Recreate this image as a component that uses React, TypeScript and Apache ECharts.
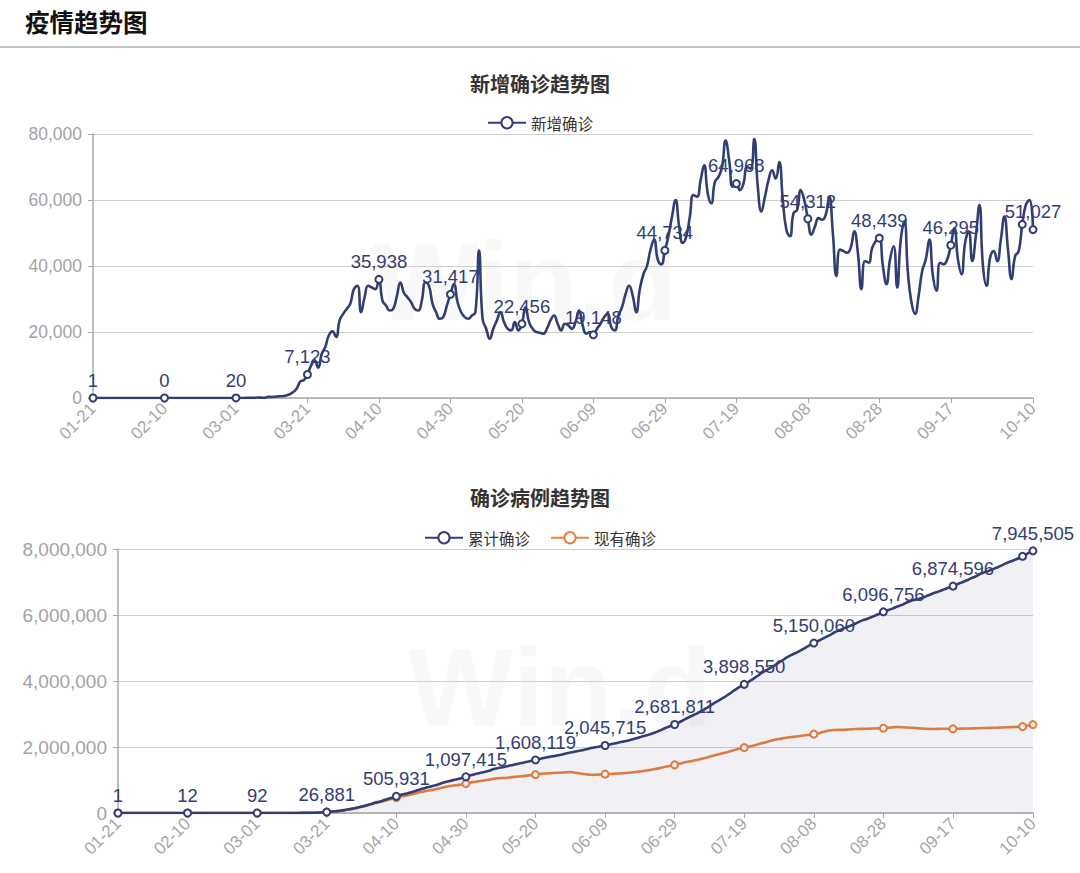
import React, { useEffect, useRef } from "react";
import * as echarts from "echarts";

// ---------- data ----------
const START_DATE = Date.UTC(2020, 0, 21);

// daily new confirmed cases (新增确诊), 01-21 .. 10-10
const dailyNew: number[] = [
  1, 0, 1, 0, 2, 0, 0, 0, 1, 1, 0, 2, 1, 0, 1, 0, 0, 1, 0, 1, 0,
  0, 0, 1, 0, 0, 2, 0, 1, 0, 3, 1, 2, 4, 6, 8, 5, 9, 8, 10, 20,
  23, 20, 31, 68, 45, 140, 116, 65, 376, 322, 382, 516, 548, 772, 1133, 1789, 2900, 5000, 5420, 7123,
  9800, 11400, 9200, 13400, 15500, 19000, 20200, 18500, 23500, 25500, 27000, 28600, 33000, 34000, 26000, 30600, 34000, 33500, 33000, 35938,
  29500, 28000, 26500, 27000, 30800, 35000, 31800, 30500, 29000, 27000, 26500, 29500, 35000, 34000, 28500, 26000, 24000, 24500, 28000, 31417,
  34500, 29000, 26000, 24500, 24000, 25000, 26000, 44700, 24000, 21000, 18000, 21000, 23500, 26000, 23000, 21000, 20500, 23000, 20500, 22456,
  27500, 23000, 21000, 20000, 19800, 19500, 21000, 23500, 25000, 22500, 20500, 22500, 22000, 21000, 23000, 26500, 22000, 19500, 20000, 19148,
  21000, 22500, 24500, 25500, 21500, 20500, 25000, 27500, 31500, 34000, 31000, 26000, 33000, 37500, 40000, 45000, 48000, 42000, 40500, 44734,
  49000, 55000, 60000, 52000, 47000, 49000, 55000, 61500, 61000, 66000, 70500, 62000, 59000, 65500, 67000, 70000, 78000, 72000, 64000, 64968,
  63000, 65000, 70000, 69500, 78500, 64000, 56500, 61000, 66000, 69000, 66500, 71500, 60000, 51000, 49000, 56000, 57000, 63000, 60000, 54312,
  49500, 52000, 54500, 54000, 55500, 61000, 50000, 37000, 45000, 44500, 44000, 45500, 50500, 44000, 33000, 41500, 41000, 45500, 47500, 48439,
  40000, 34500, 42000, 46000, 33500, 48000, 53500, 38000, 29000, 25500, 31000, 38500, 42000, 48000, 37000, 32500, 41000, 40500, 42000, 46295,
  51500, 42000, 37500, 47000, 50500, 41500, 49000, 58500, 40000, 34000, 42500, 44500, 41500, 48000, 55000, 45000, 36000, 43000, 44500, 52600, 58500, 60000, 51027,
];

// cumulative confirmed (累计确诊)
const cumulative: number[] = [
  1, 1, 2, 2, 4, 4, 4, 4, 5, 6, 6, 8, 9, 9, 10, 10, 10, 11, 11, 12, 12,
  12, 12, 13, 13, 13, 15, 15, 16, 16, 19, 20, 22, 26, 32, 40, 45, 54, 62, 72, 92,
  115, 135, 166, 234, 279, 419, 535, 600, 976, 1298, 1680, 2196, 2744, 3516, 4649, 6438, 9338, 14338, 19758, 26881,
  36681, 48081, 57281, 70681, 86181, 105181, 125381, 143881, 167381, 192881, 219881, 248481, 281481, 315481, 341481, 372081, 406081, 439581, 470000, 505931,
  536000, 565000, 592000, 620000, 651000, 687000, 719000, 750000, 780000, 807000, 834000, 864000, 899000, 934000, 963000, 989000, 1014000, 1039000, 1067000, 1097415,
  1132000, 1161000, 1188000, 1213000, 1237000, 1263000, 1289000, 1334000, 1358000, 1380000, 1398000, 1420000, 1444000, 1471000, 1494000, 1516000, 1537000, 1561000, 1585000, 1608119,
  1636000, 1659000, 1680000, 1700000, 1720000, 1739000, 1760000, 1784000, 1809000, 1831000, 1852000, 1874000, 1896000, 1917000, 1940000, 1967000, 1989000, 2008000, 2028000, 2045715,
  2067000, 2089000, 2114000, 2139000, 2161000, 2181000, 2206000, 2234000, 2265000, 2299000, 2330000, 2356000, 2389000, 2427000, 2467000, 2512000, 2560000, 2602000, 2642000, 2681811,
  2731000, 2786000, 2846000, 2898000, 2945000, 2994000, 3049000, 3110000, 3171000, 3237000, 3307000, 3369000, 3428000, 3493000, 3560000, 3630000, 3707000, 3778000, 3840000, 3898550,
  3962000, 4027000, 4097000, 4166000, 4245000, 4309000, 4365000, 4426000, 4492000, 4561000, 4628000, 4699000, 4759000, 4810000, 4859000, 4915000, 4972000, 5035000, 5095000, 5150060,
  5200000, 5252000, 5306000, 5360000, 5416000, 5477000, 5527000, 5564000, 5609000, 5653000, 5697000, 5743000, 5793000, 5837000, 5870000, 5912000, 5953000, 5999000, 6046000, 6096756,
  6137000, 6171000, 6213000, 6259000, 6293000, 6341000, 6394000, 6432000, 6461000, 6487000, 6518000, 6556000, 6598000, 6646000, 6683000, 6716000, 6757000, 6797000, 6839000, 6874596,
  6926000, 6968000, 7006000, 7053000, 7103000, 7145000, 7194000, 7252000, 7292000, 7326000, 7369000, 7413000, 7455000, 7503000, 7558000, 7603000, 7639000, 7682000, 7726000, 7779000, 7837000, 7895000, 7945505,
];

// current active confirmed (现有确诊)
const active: number[] = [
  1, 1, 2, 2, 4, 4, 4, 4, 5, 6, 6, 8, 9, 9, 10, 10, 10, 10, 10, 10, 9,
  9, 9, 10, 10, 10, 12, 12, 13, 13, 16, 17, 19, 23, 29, 37, 42, 51, 59, 69, 86,
  107, 126, 155, 220, 262, 398, 510, 570, 940, 1255, 1630, 2140, 2680, 3440, 4560, 6330, 9200, 14150, 19540, 26610,
  36200, 47400, 56400, 69500, 84600, 102900, 122300, 140000, 162400, 186600, 212000, 238800, 269600, 301000, 324000, 351000, 380000, 409000, 437000, 466000,
  490000, 512000, 533000, 553000, 580000, 610000, 634000, 655000, 676000, 694000, 712000, 735000, 762000, 789000, 808000, 826000, 840000, 852000, 870000, 890000,
  914000, 935000, 952000, 968000, 985000, 1000000, 1015000, 1040000, 1050000, 1058000, 1062000, 1070000, 1082000, 1095000, 1106000, 1115000, 1125000, 1140000, 1152000, 1165000,
  1180000, 1190000, 1198000, 1205000, 1212000, 1218000, 1222000, 1228000, 1235000, 1238000, 1225000, 1210000, 1195000, 1180000, 1168000, 1158000, 1156000, 1162000, 1170000, 1178000,
  1182000, 1186000, 1192000, 1198000, 1205000, 1212000, 1222000, 1233000, 1246000, 1260000, 1275000, 1290000, 1306000, 1325000, 1345000, 1368000, 1392000, 1413000, 1433000, 1458000,
  1482000, 1508000, 1535000, 1558000, 1578000, 1600000, 1624000, 1650000, 1676000, 1704000, 1735000, 1762000, 1788000, 1815000, 1842000, 1870000, 1902000, 1932000, 1955000, 1980000,
  2000000, 2025000, 2050000, 2080000, 2110000, 2140000, 2170000, 2200000, 2225000, 2245000, 2262000, 2280000, 2295000, 2305000, 2320000, 2335000, 2350000, 2362000, 2375000, 2390000,
  2410000, 2435000, 2465000, 2495000, 2510000, 2515000, 2520000, 2518000, 2522000, 2530000, 2538000, 2545000, 2550000, 2548000, 2552000, 2556000, 2560000, 2563000, 2566000, 2570000,
  2580000, 2590000, 2600000, 2605000, 2600000, 2595000, 2590000, 2583000, 2575000, 2568000, 2560000, 2553000, 2548000, 2545000, 2547000, 2550000, 2552000, 2551000, 2549000, 2550000,
  2553000, 2556000, 2558000, 2560000, 2562000, 2565000, 2568000, 2572000, 2575000, 2577000, 2580000, 2583000, 2586000, 2590000, 2595000, 2600000, 2603000, 2607000, 2612000, 2618000, 2640000, 2660000, 2680000,
];

// indices where a marker is drawn, where an x tick label is drawn, and markers whose value label is hidden
const markerIndices: number[] = [0, 20, 40, 60, 80, 100, 120, 140, 160, 180, 200, 220, 240, 260, 263];
const tickIndices: number[] = [0, 20, 40, 60, 80, 100, 120, 140, 160, 180, 200, 220, 240, 263];
const hiddenLabelIndices: number[] = [260];

const topYTicks = { min: 0, max: 80000, interval: 20000 };
const bottomYTicks = { min: 0, max: 8000000, interval: 2000000 };

// ---------- helpers ----------
const dates: string[] = dailyNew.map((_, i) => {
  const d = new Date(START_DATE + i * 86400000);
  const mm = String(d.getUTCMonth() + 1).padStart(2, "0");
  const dd = String(d.getUTCDate()).padStart(2, "0");
  return `${mm}-${dd}`;
});

const NAVY = "#323e73";
const ORANGE = "#e8833f";
const FONT = "'Helvetica Neue', Arial, 'Liberation Sans', 'Noto Sans CJK SC', sans-serif";
const CJK = "'Noto Sans CJK SC', 'Helvetica Neue', Arial, sans-serif";

// faint background logo (an image in the reference, so drawn as an image here)
const WATERMARK =
  "data:image/svg+xml;charset=utf-8," +
  encodeURIComponent(
    "<svg xmlns='http://www.w3.org/2000/svg' width='320' height='120'>" +
      "<text x='160' y='98' text-anchor='middle' font-family='Liberation Sans, Arial, sans-serif' " +
      "font-weight='bold' font-size='112' fill='rgba(0,0,0,0.028)'>Win.d</text></svg>"
  );

const fmt = (v: number) => Number(v).toLocaleString("en-US");

const toItems = (vals: number[]) =>
  vals.map((v, i) => (markerIndices.includes(i) ? { value: v } : { value: v, symbol: "none" }));

const tickFilter = (idx: number) => tickIndices.includes(idx);

const labelFormatter = (p: any) =>
  markerIndices.includes(p.dataIndex) && !hiddenLabelIndices.includes(p.dataIndex) ? fmt(p.value) : "";

function xAxis(gridIndex: number) {
  return {
    type: "category",
    gridIndex,
    data: dates,
    boundaryGap: false,
    axisLine: { lineStyle: { color: "#a8a8a8", width: 1.5 } },
    axisTick: { show: true, interval: tickFilter, length: 5, lineStyle: { color: "#a8a8a8" } },
    axisLabel: {
      interval: tickFilter,
      rotate: 45,
      color: "#a6a6a6",
      fontSize: 17,
      fontFamily: FONT,
      margin: 8,
    },
    splitLine: { show: false },
  };
}

function yAxis(gridIndex: number, ticks: { min: number; max: number; interval: number }, fontSize: number) {
  return {
    type: "value",
    gridIndex,
    min: ticks.min,
    max: ticks.max,
    interval: ticks.interval,
    axisLine: { show: true, lineStyle: { color: "#a8a8a8", width: 1.5 } },
    axisTick: { show: true, length: 5, lineStyle: { color: "#a8a8a8" } },
    axisLabel: {
      color: "#a3a3a3",
      fontSize,
      fontFamily: FONT,
      margin: 11,
      formatter: (v: number) => fmt(v),
    },
    splitLine: { show: true, lineStyle: { color: "#cfcfcf", width: 1 } },
  };
}

export default function App() {
  const ref = useRef<HTMLDivElement>(null);

  useEffect(() => {
    if (!ref.current) return;
    const chart = echarts.init(ref.current, undefined, { renderer: "svg" });
    const dataLabel = {
      show: true,
      position: "top",
      distance: 4,
      color: NAVY,
      fontSize: 18.5,
      fontFamily: FONT,
      formatter: labelFormatter,
    };
    const option: any = {
      animation: false,
      backgroundColor: "#ffffff",
      textStyle: { fontFamily: FONT },
      title: [
        {
          text: "新增确诊趋势图",
          left: "center",
          top: 68,
          textStyle: { fontSize: 20, fontWeight: "bold", color: "#333", fontFamily: CJK },
        },
        {
          text: "确诊病例趋势图",
          left: "center",
          top: 482,
          textStyle: { fontSize: 20, fontWeight: "bold", color: "#333", fontFamily: CJK },
        },
      ],
      legend: [
        {
          data: ["新增确诊"],
          top: 110,
          left: "center",
          itemWidth: 38,
          itemHeight: 14,
          itemGap: 20,
          textStyle: { fontSize: 15.5, color: "#333", fontFamily: CJK },
        },
        {
          data: ["累计确诊", "现有确诊"],
          top: 525,
          left: "center",
          itemWidth: 38,
          itemHeight: 14,
          itemGap: 20,
          textStyle: { fontSize: 15.5, color: "#333", fontFamily: CJK },
        },
      ],
      grid: [
        { left: 93, top: 134, width: 940, height: 264, containLabel: false },
        { left: 118, top: 549, width: 915, height: 264, containLabel: false },
      ],
      xAxis: [xAxis(0), xAxis(1)],
      yAxis: [yAxis(0, topYTicks, 17.5), yAxis(1, bottomYTicks, 19)],
      graphic: [
        {
          type: "text",
          x: 25,
          y: 21,
          style: {
            text: "疫情趋势图",
            fontSize: 24.5,
            fontWeight: "bold",
            fill: "#111",
            verticalAlign: "middle",
            fontFamily: CJK,
          },
        },
        {
          type: "line",
          shape: { x1: 0, y1: 47, x2: 1080, y2: 47 },
          style: { stroke: "#c4c4c4", lineWidth: 2 },
        },
        {
          type: "image",
          z: -10,
          silent: true,
          style: { image: WATERMARK, x: 365, y: 222, width: 320, height: 120 },
        },
        {
          type: "image",
          z: -10,
          silent: true,
          style: { image: WATERMARK, x: 400, y: 628, width: 320, height: 120 },
        },
      ],
      series: [
        {
          name: "新增确诊",
          type: "line",
          xAxisIndex: 0,
          yAxisIndex: 0,
          data: toItems(dailyNew),
          smooth: true,
          symbol: "emptyCircle",
          symbolSize: 7,
          showSymbol: true,
          showAllSymbol: true,
          lineStyle: { color: NAVY, width: 2.6 },
          itemStyle: { color: NAVY, borderWidth: 1.5 },
          label: dataLabel,
        },
        {
          name: "累计确诊",
          type: "line",
          xAxisIndex: 1,
          yAxisIndex: 1,
          data: toItems(cumulative),
          smooth: true,
          symbol: "emptyCircle",
          symbolSize: 7,
          showSymbol: true,
          showAllSymbol: true,
          lineStyle: { color: NAVY, width: 2.6 },
          itemStyle: { color: NAVY, borderWidth: 1.5 },
          areaStyle: { color: "rgba(50,62,115,0.1)" },
          label: dataLabel,
          z: 3,
        },
        {
          name: "现有确诊",
          type: "line",
          xAxisIndex: 1,
          yAxisIndex: 1,
          data: toItems(active),
          smooth: true,
          symbol: "emptyCircle",
          symbolSize: 7,
          showSymbol: true,
          showAllSymbol: true,
          lineStyle: { color: ORANGE, width: 2.6 },
          itemStyle: { color: ORANGE, borderWidth: 1.5 },
          label: { show: false },
          z: 2,
        },
      ],
    };
    chart.setOption(option);
    return () => chart.dispose();
  }, []);

  return (
    <div
      ref={ref}
      style={{ position: "fixed", left: 0, top: 0, width: 1080, height: 873, background: "#fff" }}
    />
  );
}
